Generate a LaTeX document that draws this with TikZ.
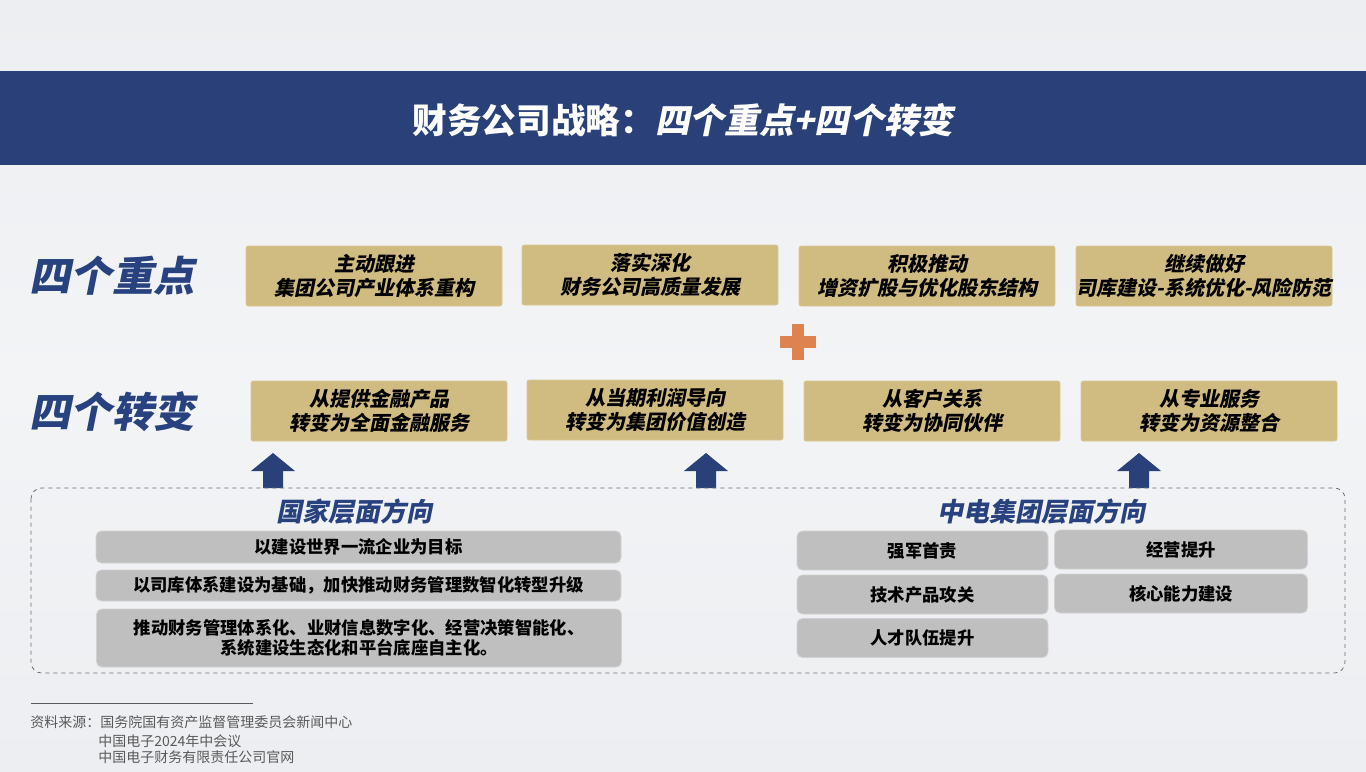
\documentclass[tikz,border=0pt]{standalone}
\usepackage{fontspec}
\setmainfont{Noto Sans CJK SC}
\newfontfamily\cjkit{Noto Sans CJK SC}[FakeSlant=0.2]
\usepackage{tikz}
\usetikzlibrary{positioning}
\definecolor{navy}{RGB}{42,64,121}
\definecolor{headblue}{RGB}{40,66,128}
\definecolor{gold}{RGB}{208,187,128}
\definecolor{boxgray}{RGB}{191,191,191}
\definecolor{plusorange}{RGB}{222,130,80}
\definecolor{bgray}{RGB}{237,238,241}
\definecolor{bglight}{RGB}{243,244,246}
\definecolor{srcgray}{RGB}{90,90,90}

\begin{document}
\begin{tikzpicture}[x=0.75pt, y=-0.75pt, every node/.style={inner sep=0}]
    \tikzstyle{goldbox}=[ %
      rectangle, rounded corners=1.5pt,
      fill=gold, draw=gold!80!white, line width=0.4pt,
      minimum width=192pt, minimum height=45pt,
      align=center,
      font=\cjkit\bfseries\fontsize{15}{18}\selectfont
    ]
    \tikzstyle{graybox}=[ %
      rectangle, rounded corners=4pt,
      fill=boxgray, draw=boxgray!70!white, line width=0.6pt,
      align=center,
      font=\bfseries\fontsize{13}{15.5}\selectfont
    ]
    \tikzstyle{heading}=[ %
      text=headblue,
      font=\cjkit\bfseries\fontsize{31}{32}\selectfont
    ]
    \tikzstyle{subhead}=[ %
      text=headblue,
      font=\cjkit\bfseries\fontsize{19.5}{22}\selectfont
    ]
    \tikzstyle{source}=[ %
      anchor=west, text=srcgray,
      font=\fontsize{10.5}{12}\selectfont
    ]
  % background and banner
    \shade[top color=bgray, bottom color=bgray, middle color=bglight] (0,0) rectangle (1366,771);
    \useasboundingbox (0,0) rectangle (1366,771);
    \fill[navy] (0,71) rectangle (1366,165);
    \path (683,120) node(title) [text=white, font=\bfseries\fontsize{26}{28}\selectfont]
                {财务公司战略：{\cjkit\bfseries 四个重点+四个转变}};
  % four key points
    \path (112,276) node(zd) [heading] {四个重点}
          (374,276) node(zd1) [goldbox] {主动跟进\\集团公司产业体系重构}
          (650,275) node(zd2) [goldbox] {落实深化\\财务公司高质量发展}
          (927,276) node(zd3) [goldbox] {积极推动\\增资扩股与优化股东结构}
          (1204,276) node(zd4) [goldbox] {继续做好\\司库建设-系统优化-风险防范};
  % plus sign
    \fill[plusorange] (780,336) rectangle (816,348);
    \fill[plusorange] (792,324) rectangle (804,360);
  % four changes
    \path (112,412) node(zb) [heading] {四个转变}
          (379,411) node(zb1) [goldbox] {从提供金融产品\\转变为全面金融服务}
          (655,410) node(zb2) [goldbox] {从当期利润导向\\转变为集团价值创造}
          (932,411) node(zb3) [goldbox] {从客户关系\\转变为协同伙伴}
          (1209,411) node(zb4) [goldbox] {从专业服务\\转变为资源整合};
  % arrows up
    \foreach \x in {273,706,1139}
      \fill[navy] (\x-10,488) -- (\x-10,471) -- (\x-22,471) -- (\x,453)
                  -- (\x+22,471) -- (\x+10,471) -- (\x+10,488) -- cycle;
  % dashed frame
    \draw[gray!85!black, dashed, line width=0.6pt, rounded corners=8pt]
          (31,488) rectangle (1345,673);
  % national level
    \path (354,512) node(gj) [subhead] {国家层面方向}
          (358.5,547) node(gj1) [graybox, minimum width=393.75pt, minimum height=24pt]
                {以建设世界一流企业为目标}
          (358.5,585.5) node(gj2) [graybox, minimum width=393.75pt, minimum height=23.25pt]
                {以司库体系建设为基础，加快推动财务管理数智化转型升级}
          (359,638) node(gj3) [graybox, minimum width=393.75pt, minimum height=43.5pt]
                {推动财务管理体系化、业财信息数字化、经营决策智能化、\\系统建设生态化和平台底座自主化。};
  % group level
    \path (1041,512) node(jt) [subhead] {中电集团层面方向}
          (922.5,550.5) node(jt1) [graybox, minimum width=188.25pt, minimum height=29.25pt] {强军首责}
          (922.5,594.5) node(jt2) [graybox, minimum width=188.25pt, minimum height=29.25pt] {技术产品攻关}
          (922.5,638) node(jt3) [graybox, minimum width=188.25pt, minimum height=29.25pt] {人才队伍提升}
          (1181,549.5) node(jt4) [graybox, minimum width=189.75pt, minimum height=29.25pt] {经营提升}
          (1181,593.5) node(jt5) [graybox, minimum width=189.75pt, minimum height=29.25pt] {核心能力建设};
  % sources
    \draw[srcgray, line width=0.5pt] (31,703) -- (253,703);
    \path (30,722) node(src1) [source] {资料来源：国务院国有资产监督管理委员会新闻中心}
          (98,741) node(src2) [source] {中国电子2024年中会议}
          (98,757) node(src3) [source] {中国电子财务有限责任公司官网};
  \end{tikzpicture}
\end{document}
